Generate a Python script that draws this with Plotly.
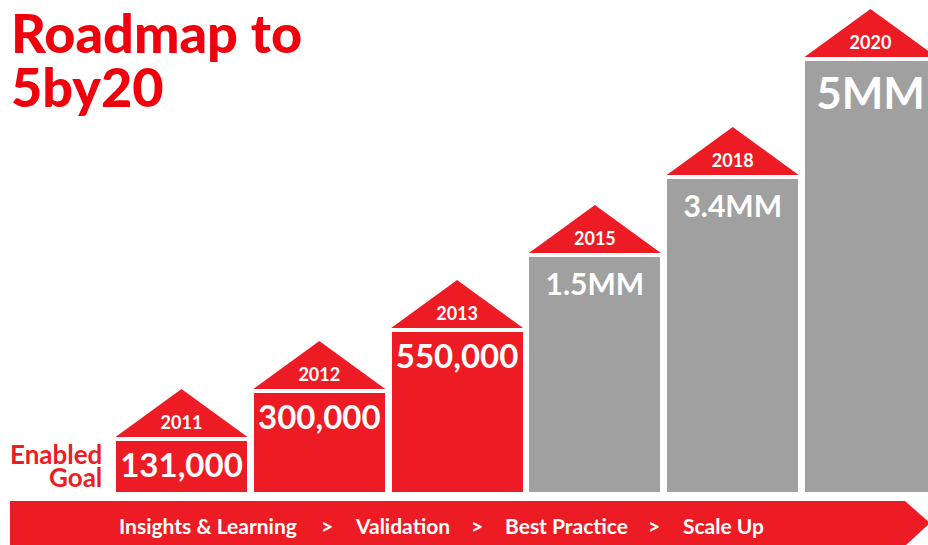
import plotly.graph_objects as go

# ---------------- data ----------------
years = ["2011", "2012", "2013", "2015", "2018", "2020"]
goal_labels = ["131,000", "300,000", "550,000", "1.5MM", "3.4MM", "5MM"]
bar_heights = [51, 99, 160, 235, 313, 431]          # visual heights
status = ["Enabled", "Enabled", "Enabled", "Goal", "Goal", "Goal"]
stages = ["Insights & Learning", "Validation", "Best Practice", "Scale Up"]
stage_centers = [208, 402, 566, 723]                 # pixel centres of stage labels
sep_centers = [327, 477, 654]

# ---------------- style ----------------
RED = "#ED1C24"
TITLE_RED = "#F0000C"
GRAY = "#A0A0A0"
FONT = "Lato"
W, H = 928, 545
PX_PER_CAT = 137.8
FIRST_CENTER = 181.5
BASE_PX = 492
BAR_W = 0.95
ROOF_GAP = 4
ROOF_H = 48

idx = list(range(len(years)))
colors = [RED if s == "Enabled" else GRAY for s in status]

fig = go.Figure()

# bars
fig.add_trace(go.Bar(
    x=idx, y=bar_heights, width=BAR_W, marker=dict(color=colors, line=dict(width=0)),
    hoverinfo="skip", showlegend=False))

# roofs (triangles computed from bar data)
rx, ry = [], []
for i, h in zip(idx, bar_heights):
    b = h + ROOF_GAP
    rx += [i - BAR_W / 2 - 0.004, i, i + BAR_W / 2 + 0.004, i - BAR_W / 2 - 0.004, None]
    ry += [b, b + ROOF_H, b, b, None]
fig.add_trace(go.Scatter(x=rx, y=ry, mode="lines", fill="toself", fillcolor=RED,
                         line=dict(width=0, color=RED), hoverinfo="skip", showlegend=False))

# year labels inside roofs
fig.add_trace(go.Scatter(
    x=idx, y=[h + ROOF_GAP + 13 for h in bar_heights], mode="text", text=years,
    textfont=dict(family=FONT, size=18, color="white", weight="bold"),
    hoverinfo="skip", showlegend=False))

# value labels inside bars
val_sizes = [33 if s == "Enabled" else 30 for s in status]
val_sizes[-1] = 44
val_offsets = [28 if s == "Enabled" else 30 for s in status]
val_offsets[-1] = 37
fig.add_trace(go.Scatter(
    x=idx, y=[h - o for h, o in zip(bar_heights, val_offsets)], mode="text", text=goal_labels,
    textfont=dict(family=FONT, size=val_sizes, color="white", weight="bold"),
    hoverinfo="skip", showlegend=False))

# bottom arrow banner
def px(x):
    return x / W

def py(y):
    return 1 - y / H

banner_path = "M {} {} L {} {} L {} {} L {} {} L {} {} Z".format(
    px(10), py(501), px(905), py(501), px(930), py(523), px(905), py(546), px(10), py(546))
fig.add_shape(type="path", path=banner_path, xref="paper", yref="paper",
              fillcolor=RED, line=dict(width=0), layer="above")

for lab, cx in zip(stages, stage_centers):
    fig.add_annotation(x=px(cx), y=py(525), xref="paper", yref="paper", text=lab,
                       showarrow=False, xanchor="center", yanchor="middle",
                       font=dict(family=FONT, size=21, color="white", weight="bold"))
for cx in sep_centers:
    fig.add_annotation(x=px(cx), y=py(525), xref="paper", yref="paper", text=">",
                       showarrow=False, xanchor="center", yanchor="middle",
                       font=dict(family=FONT, size=21, color="white", weight="bold"))

# title
for line, yc in [("Roadmap to", 33), ("5by20", 86)]:
    fig.add_annotation(x=px(9), y=py(yc), xref="paper", yref="paper", text=line,
                       showarrow=False, xanchor="left", yanchor="middle",
                       font=dict(family=FONT, size=54, color=TITLE_RED, weight=900))

# Enabled / Goal
for line, yc in [("Enabled", 454), ("Goal", 477)]:
    fig.add_annotation(x=px(104), y=py(yc), xref="paper", yref="paper", text=line,
                       showarrow=False, xanchor="right", yanchor="middle",
                       font=dict(family=FONT, size=26, color=RED, weight="bold"))

fig.update_layout(
    width=W, height=H, margin=dict(l=0, r=0, t=0, b=0),
    paper_bgcolor="white", plot_bgcolor="white",
    xaxis=dict(range=[-FIRST_CENTER / PX_PER_CAT, (W - FIRST_CENTER) / PX_PER_CAT],
               visible=False, fixedrange=True),
    yaxis=dict(range=[-(H - BASE_PX), BASE_PX], visible=False, fixedrange=True),
    bargap=0,
)

fig.write_html("out.html", config={"displayModeBar": False},
               post_script="document.body.style.margin='0';document.body.style.overflow='hidden';")
